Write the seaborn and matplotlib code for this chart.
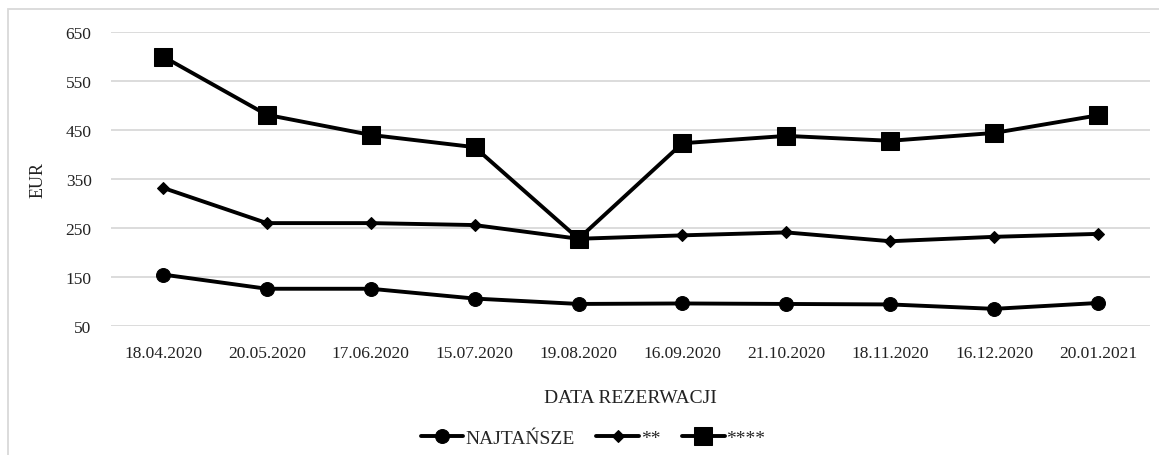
import matplotlib
matplotlib.use("Agg")
import matplotlib.pyplot as plt
import seaborn as sns
import pandas as pd
from matplotlib.patches import Rectangle

# dane
daty = ['18.04.2020', '20.05.2020', '17.06.2020', '15.07.2020', '19.08.2020',
        '16.09.2020', '21.10.2020', '18.11.2020', '16.12.2020', '20.01.2021']
najtansze = [155, 126, 126, 106, 95, 96, 95, 94, 85, 97]
dwie_gw = [332, 260, 260, 256, 228, 235, 241, 223, 232, 238]
cztery_gw = [600, 481, 440, 415, 228, 423, 438, 428, 444, 480]
y_ticks = [50, 150, 250, 350, 450, 550, 650]

df = pd.DataFrame({'Data': daty, 'NAJTAŃSZE': najtansze, '**': dwie_gw, '****': cztery_gw})
df['x'] = range(len(daty))

sns.set_style('white')
plt.rcParams['font.family'] = ['Liberation Serif', 'DejaVu Serif']

fig = plt.figure(figsize=(11.59, 4.56), dpi=100)
ax = fig.add_axes([0.0958, 0.2829, 0.8964, 0.6447])

style = {'NAJTAŃSZE': ('o', 10), '**': ('D', 6.5), '****': ('s', 12.5)}
for nazwa, (mk, ms) in style.items():
    sns.lineplot(data=df, x='x', y=nazwa, ax=ax, color='black', linewidth=2.8,
                 marker=mk, markersize=ms, markeredgecolor='black', label=nazwa)

ax.set_xlim(-0.5, len(daty) - 0.5)
ax.set_ylim(50, 650)
ax.set_yticks(y_ticks)
ax.set_xticks(df['x'])
ax.set_xticklabels(daty)
ax.tick_params(axis='both', length=0, labelsize=12.5, colors='#222222')
ax.tick_params(axis='x', pad=14)
ax.tick_params(axis='y', pad=14)
ax.grid(axis='y', color='#d9d9d9', linewidth=1.3)
ax.set_axisbelow(True)
for s in ax.spines.values():
    s.set_visible(False)

ax.set_ylabel('EUR', fontsize=13, color='#222222', labelpad=14)
ax.set_xlabel('DATA REZERWACJI', fontsize=14, color='#222222', labelpad=20)

ax.legend(loc='upper center', bbox_to_anchor=(0.464, -0.293), ncol=3, frameon=False,
          fontsize=14, handlelength=2.2, handletextpad=0.1, columnspacing=1.1)

# ramka obszaru wykresu
fig.patches.append(Rectangle((8 / 1159, -0.1), 1.2, 1 - 10 / 456 + 0.1,
                             transform=fig.transFigure, fill=False,
                             edgecolor='#d9d9d9', linewidth=1.3))

fig.savefig('out.png', dpi=100)
